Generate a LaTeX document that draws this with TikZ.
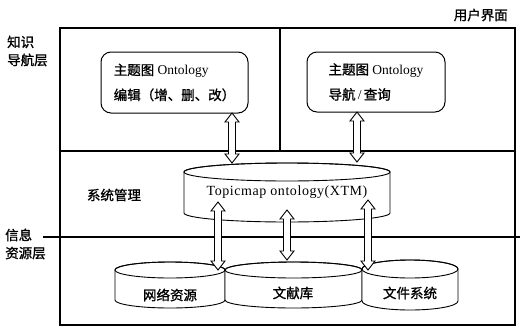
\documentclass[tikz,border=0pt]{standalone}
\usepackage{fontspec}
\setmainfont{Liberation Serif}
\newfontfamily\cjk[FakeBold=1.2]{Noto Sans CJK SC}
\newfontfamily\lsp[LetterSpace=4]{Liberation Serif}
\usetikzlibrary{calc}
\tikzset{
  frame/.style={line width=1.2pt},
  thin/.style={line width=0.9pt},
  rbox/.style={draw, line width=1pt, rounded corners=10pt, align=left, font=\fontsize{13.5}{25}\selectfont},
  lbl/.style={font=\cjk\fontsize{13.5}{18}\selectfont, inner sep=0pt},
  cyl/.style={draw, line width=0.9pt, fill=white},
  dblarr/.style={draw, line width=0.9pt, fill=white, line join=miter},
}
\newcommand\udarrow[2]{%
  \path[dblarr] let \p1=(#1), \p2=(#2) in
    (\x1,\y1) -- (\x1+7pt,\y1-9pt) -- (\x1+3.5pt,\y1-9pt) -- (\x1+3.5pt,\y2+9pt)
    -- (\x1+7pt,\y2+9pt) -- (\x1,\y2) -- (\x1-7pt,\y2+9pt) -- (\x1-3.5pt,\y2+9pt)
    -- (\x1-3.5pt,\y1-9pt) -- (\x1-7pt,\y1-9pt) -- cycle;}
\begin{document}
\begin{tikzpicture}[x=1pt,y=-1pt]
\useasboundingbox (0,0) rectangle (520,333);
% frame
\draw[frame] (60,28) rectangle (515,325);
\draw[frame] (60,151) -- (515,151);
\draw[frame] (280,28) -- (280,151);
\draw[frame] (43,237) -- (520,237);
% labels
\node[lbl, anchor=east] (ui) at (508,15) {用户界面};
\node[lbl, anchor=west, align=left] (kn) at (7,51) {知识\\导航层};
\node[lbl, anchor=west, align=left] (info) at (5,244) {信息\\资源层};
\node[lbl] (sys) at (114,195) {系统管理};
% boxes
\node[rbox, minimum width=147pt, minimum height=61pt] (box1) at (174.5,82.5)
  {{\cjk 主题图} Ontology\\{\cjk 编辑（增、删、改）}};
\node[rbox, minimum width=138pt, minimum height=60pt] (box2) at (376,82)
  {{\cjk 主题图} Ontology\\{\cjk 导航\,}/{\cjk\,查询}};
% Topicmap cylinder
\path[cyl] (184,172) -- (184,213) arc[start angle=180, end angle=360, x radius=103pt, y radius=9pt] -- (390,172) arc[start angle=0, end angle=180, x radius=103pt, y radius=9pt] -- cycle;
\draw[thin] (287,172) ellipse [x radius=103pt, y radius=9pt];
\node[inner sep=0pt, font=\lsp\fontsize{14}{16}\selectfont] (tm) at (287,192) {Topicmap ontology(XTM)};
% bottom cylinders
\path[cyl] (115,270) -- (115,300) arc[start angle=180, end angle=360, x radius=55pt, y radius=8pt] -- (225,270) arc[start angle=0, end angle=180, x radius=55pt, y radius=8pt] -- cycle;
\draw[thin] (170,270) ellipse [x radius=55pt, y radius=8pt];
\path[cyl] (225,270) -- (225,300) arc[start angle=180, end angle=360, x radius=68.5pt, y radius=8pt] -- (362,270) arc[start angle=0, end angle=180, x radius=68.5pt, y radius=8pt] -- cycle;
\draw[thin] (293.5,270) ellipse [x radius=68.5pt, y radius=8pt];
\path[cyl] (362,269) -- (362,301) arc[start angle=180, end angle=360, x radius=48pt, y radius=9pt] -- (458,269) arc[start angle=0, end angle=180, x radius=48pt, y radius=9pt] -- cycle;
\draw[thin] (410,269) ellipse [x radius=48pt, y radius=9pt];
\node[lbl] (net) at (170,295) {网络资源};
\node[lbl] (lib) at (293,293) {文献库};
\node[lbl] (fs) at (410,293) {文件系统};
% arrow end points
\coordinate (a1t) at (232,113);
\coordinate (a1b) at (232,163);
\coordinate (a2t) at (357,112);
\coordinate (a2b) at (357,162);
\coordinate (a3t) at (218,202);
\coordinate (a3b) at (218,270);
\coordinate (a4t) at (287,210);
\coordinate (a4b) at (287,260);
\coordinate (a5t) at (368,200);
\coordinate (a5b) at (368,270);
\udarrow{a1t}{a1b}
\udarrow{a2t}{a2b}
\udarrow{a3t}{a3b}
\udarrow{a4t}{a4b}
\udarrow{a5t}{a5b}
\end{tikzpicture}
\end{document}
